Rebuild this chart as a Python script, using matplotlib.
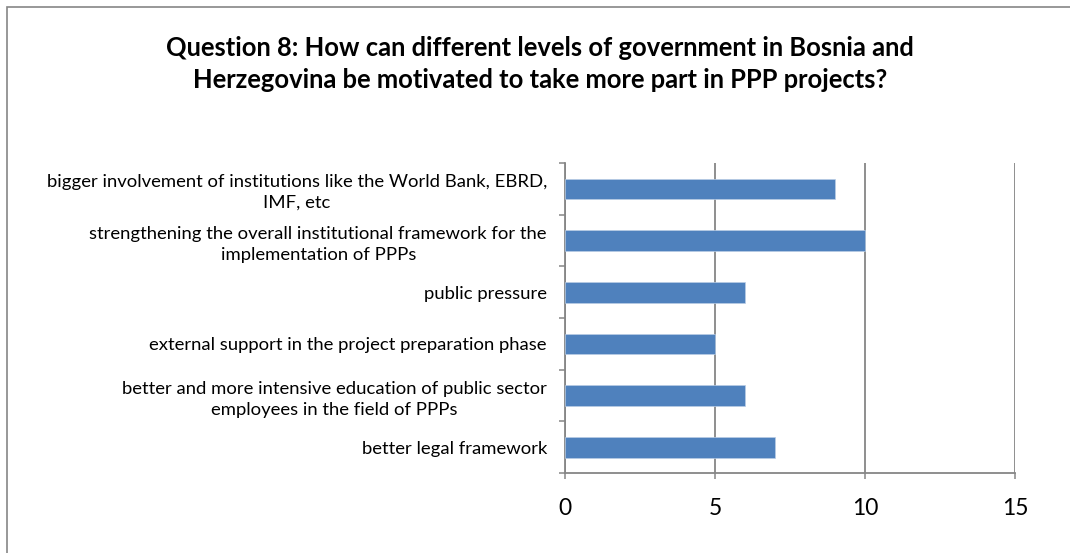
import matplotlib.pyplot as plt
from matplotlib.patches import Rectangle
from matplotlib.ticker import FixedLocator
import numpy as np

categories = [
    "bigger involvement of institutions like the World Bank, EBRD,\nIMF, etc",
    "strengthening the overall institutional framework for the\nimplementation of PPPs",
    "public pressure",
    "external support in the project preparation phase",
    "better and more intensive education of public sector\nemployees in the field of PPPs",
    "better legal framework",
]
values = [9, 10, 6, 5, 6, 7]
xticks = [0, 5, 10, 15]
title = ("Question 8: How can different levels of government in Bosnia and\n"
         "Herzegovina be motivated to take more part in PPP projects?")

plt.rcParams['font.family'] = ['Lato', 'DejaVu Sans']

W, H = 1070, 553
fig = plt.figure(figsize=(W / 100, H / 100), dpi=100)

# chart frame, runs off the right and bottom edge
fig.patches.append(Rectangle((6.5 / W, -0.1), 1.2, 1 - 7.5 / H + 0.1,
                             transform=fig.transFigure, fill=False,
                             edgecolor='#868686', linewidth=1.2))

grey = '#868686'
ax = fig.add_axes([565 / W, 1 - 473 / H, 450 / W, 310 / H])

y = np.arange(len(categories))
ax.barh(y, values, height=0.4, color='#4F81BD', edgecolor='#b9cde5',
        linewidth=0.5, zorder=3)

ax.set_xlim(0, 15)
ax.set_ylim(len(categories) - 0.5, -0.5)

ax.set_xticks(xticks)
ax.set_xticklabels([str(t) for t in xticks], fontsize=16.5)
ax.tick_params(axis='x', length=4, width=1.1, color=grey, pad=14)

ax.set_yticks(y)
ax.set_yticklabels(categories, fontsize=13.3, multialignment='center',
                   linespacing=1.35)
ax.tick_params(axis='y', which='major', length=0, pad=13)
ax.yaxis.set_minor_locator(FixedLocator(np.arange(-0.5, len(categories), 1.0)))
ax.tick_params(axis='y', which='minor', length=4.5, width=1.1, color=grey)

ax.grid(axis='x', color=grey, linewidth=1.3, zorder=0)
for side in ('top', 'right'):
    ax.spines[side].set_visible(False)
for side in ('left', 'bottom'):
    ax.spines[side].set_color(grey)
    ax.spines[side].set_linewidth(1.3)

fig.text(540 / W, 1 - 64 / H, title, ha='center', va='center',
         fontsize=18.4, fontweight='bold', linespacing=1.35)

fig.savefig('out.png', dpi=100)
